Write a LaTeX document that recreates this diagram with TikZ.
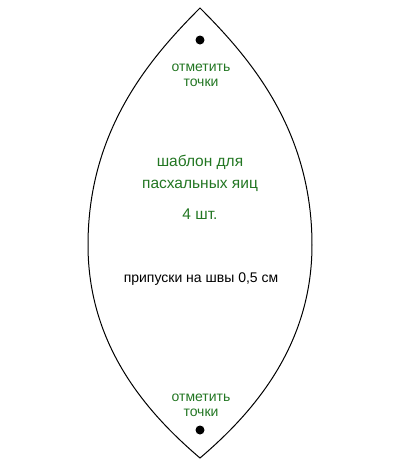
\documentclass[tikz,border=0pt]{standalone}
\usepackage{fontspec}
\setmainfont{Liberation Sans}
\definecolor{markgreen}{RGB}{34,118,34}

\begin{document}
\begin{tikzpicture}[x=1pt,y=-1pt,
  note/.style={align=center,text=markgreen,font=\fontsize{14}{15}\selectfont,inner sep=0pt},
  title/.style={align=center,text=markgreen,font=\fontsize{15.5}{22}\selectfont,inner sep=0pt},
  hole/.style={shape=circle,fill=black,minimum size=9pt,inner sep=0pt}]
\useasboundingbox (0,0) rectangle (400,467);

\coordinate (top) at (200,8);
\coordinate (bottom) at (200,458);
\coordinate (left) at (88,245);
\coordinate (right) at (312,245);

\draw[line width=1pt,line join=miter] (top) .. controls (150,58) and (88,130) .. (left)
  .. controls (88,345) and (146,412) .. (bottom)
  .. controls (254,412) and (312,345) .. (right)
  .. controls (312,130) and (250,58) .. (top) -- cycle;

\node[hole] (0) at (200,40) {};
\node[hole] (1) at (200,430) {};

\node[note] (2) at (201,75) {отметить\\точки};
\node[note] (3) at (201,405) {отметить\\точки};
\node[title] (4) at (200,173) {шаблон для\\пасхальных яиц};
\node[title] (5) at (200,214) {4 шт.};
\node[inner sep=0pt,font=\fontsize{14}{15}\selectfont] (6) at (201,279) {припуски на швы 0,5 см};
\end{tikzpicture}
\end{document}
